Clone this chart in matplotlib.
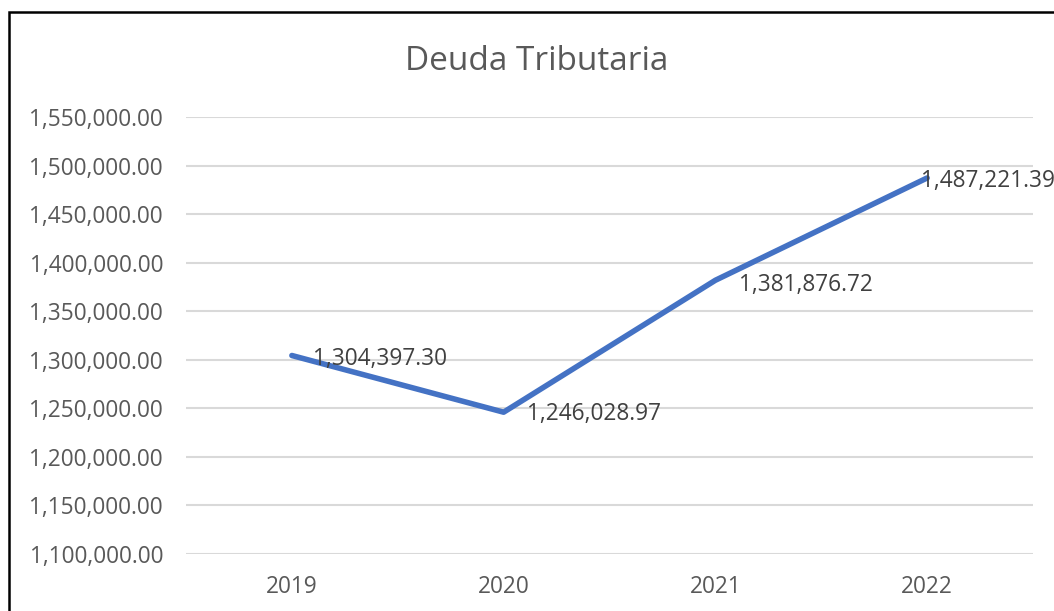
import matplotlib
matplotlib.use("Agg")
import matplotlib.pyplot as plt
from matplotlib.ticker import FuncFormatter, MultipleLocator
from matplotlib.patches import Rectangle

years = ["2019", "2020", "2021", "2022"]
deuda = [1304397.30, 1246028.97, 1381876.72, 1487221.39]
title = "Deuda Tributaria"
label_offsets = [(15, -2.5), (17, -1.5), (17, -3.5), (-4.5, -2.5)]

plt.rcParams['font.family'] = ['Open Sans', 'DejaVu Sans']

W, H = 1054, 611
fig = plt.figure(figsize=(W / 100, H / 100), dpi=100)
fig.patch.set_facecolor("white")

# chart-area border (only top and left visible in the crop)
fig.add_artist(Rectangle((9 / W, -0.1), 1.2, 1 - 11.5 / H + 0.1, transform=fig.transFigure,
                         fill=False, edgecolor="black", linewidth=1.8))

ax = fig.add_axes([186 / W, 1 - 554 / H, (1033 - 186) / W, (554 - 117) / H])
x = list(range(len(years)))
ax.plot(x, deuda, color="#4472C4", linewidth=4.0, solid_capstyle="round",
        solid_joinstyle="round", zorder=3)

for xi, v, off in zip(x, deuda, label_offsets):
    ax.annotate(f"{v:,.2f}", (xi, v), xytext=off, textcoords="offset points",
                ha="left", va="center", fontsize=16.3, color="#404040",
                annotation_clip=False, zorder=4)

ax.set_xlim(-0.5, len(years) - 0.5)
ax.set_ylim(1100000, 1550000)
ax.yaxis.set_major_locator(MultipleLocator(50000))
ax.yaxis.set_major_formatter(FuncFormatter(lambda v, p: f"{v:,.2f}"))
ax.set_xticks(x)
ax.set_xticklabels(years)
ax.grid(axis="y", color="#D9D9D9", linewidth=1.5)
ax.set_axisbelow(True)
for s in ax.spines.values():
    s.set_visible(False)
ax.tick_params(axis="both", length=0, colors="#595959", labelsize=16.3)
ax.tick_params(axis="y", pad=16.5)
ax.tick_params(axis="x", pad=15)

fig.text(537 / W, 1 - 62 / H, title, ha="center", va="center", fontsize=24, color="#595959")

fig.savefig("out.png", dpi=100)
